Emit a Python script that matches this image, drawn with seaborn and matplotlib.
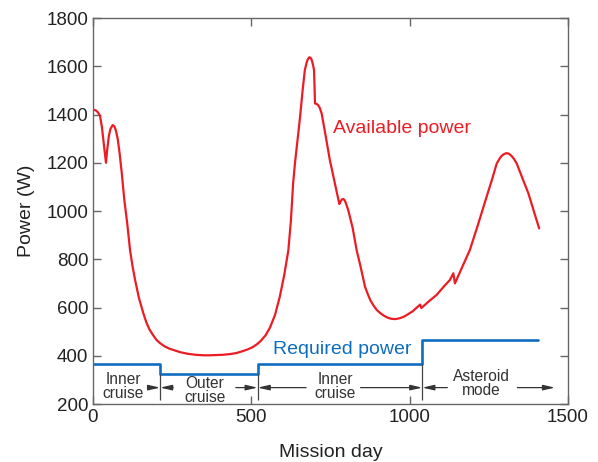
import matplotlib
matplotlib.use('Agg')
import matplotlib.pyplot as plt
import seaborn as sns
import pandas as pd

# Available power (mission day, W)
avail_day = [0, 8, 15, 22, 28, 34, 41, 45, 50, 55, 62, 67, 72, 78, 84, 91, 99, 108,
             117, 125, 133, 145, 159, 168, 178, 190, 201, 212, 225, 240, 254, 275,
             300, 325, 348, 370, 390, 410, 433, 452, 470, 490, 506, 520, 530, 545,
             559, 575, 590, 604, 617, 625, 632, 638, 643, 649, 654, 662, 669, 674,
             678, 682, 685, 689, 692, 695, 698, 700, 701, 706, 711, 716, 722, 735,
             748, 763, 778, 782, 786, 790, 794, 798, 806, 820, 833, 845, 859, 868,
             876, 886, 896, 908, 920, 932, 943, 955, 967, 980, 991, 1010, 1033, 1037,
             1060, 1085, 1110, 1127, 1138, 1143, 1165, 1190, 1215, 1243, 1260, 1275,
             1283, 1290, 1298, 1306, 1314, 1322, 1330, 1338, 1355, 1375, 1392, 1409]
avail_power = [1420, 1418, 1410, 1395, 1350, 1280, 1200, 1255, 1310, 1340, 1356,
               1352, 1335, 1300, 1240, 1156, 1045, 950, 838, 770, 714, 640, 576, 540,
               510, 485, 465, 452, 440, 430, 424, 415, 408, 404, 402, 402, 403, 404,
               407, 411, 418, 427, 437, 450, 462, 485, 517, 570, 645, 735, 838, 960,
               1115, 1200, 1260, 1330, 1391, 1500, 1584, 1612, 1628, 1636, 1637,
               1632, 1620, 1605, 1584, 1500, 1446, 1444, 1439, 1428, 1405, 1310, 1211,
               1120, 1029, 1040, 1048, 1050, 1046, 1035, 1004, 930, 835, 770, 686, 655,
               630, 608, 590, 576, 565, 557, 553, 552, 555, 561, 569, 585, 612, 598,
               625, 652, 690, 714, 742, 700, 765, 838, 940, 1059, 1130, 1197, 1215,
               1228, 1236, 1240, 1237, 1228, 1215, 1197, 1140, 1073, 1000, 928]

# Required power (step levels starting at each day)
req_day = [0, 212, 520, 1040, 1406]
req_power = [365, 325, 365, 465, 465]

# Mission phases
phase_edges = [212, 520, 1040]
phase_labels = ['Inner\ncruise', 'Outer\ncruise', 'Inner\ncruise', 'Asteroid\nmode']
phase_centers = [96, 354, 764, 1227]
phase_label_y = [272, 257, 272, 285]

avail = pd.DataFrame({'day': avail_day, 'power': avail_power})
req = pd.DataFrame({'day': req_day, 'power': req_power})

sns.set_style('ticks')
plt.rcParams['font.family'] = ['Liberation Sans', 'DejaVu Sans']

fig = plt.figure(figsize=(5.98, 4.62), dpi=100)
ax = fig.add_axes([0.1555, 0.1255, 0.7943, 0.8355])

red = '#ec1c24'
blue = '#0f6dbf'
gray = '#444444'

sns.lineplot(data=avail, x='day', y='power', color=red, lw=1.6,
             estimator=None, sort=False, ax=ax)
sns.lineplot(data=req, x='day', y='power', color=blue, lw=1.9,
             estimator=None, sort=False, drawstyle='steps-post', ax=ax)

# phase dividers
ax.vlines(phase_edges, 218, [325, 325, 365], color=gray, lw=0.9)

arrow = dict(arrowstyle='-|>,head_length=0.7,head_width=0.16', color='#333333',
             lw=0.9, shrinkA=0, shrinkB=0)
ya = 268
# (tail, head) pairs for each arrow
arrow_pairs = [(172, 212), (253, 212), (451, 520), (673, 520), (845, 1040),
               (1119, 1040), (1340, 1459)]
for tail, head in arrow_pairs:
    ax.annotate('', xy=(head, ya), xytext=(tail, ya), arrowprops=arrow)
for c, yl, lab in zip(phase_centers, phase_label_y, phase_labels):
    ax.text(c, yl, lab, ha='center', va='center', fontsize=11.2,
            linespacing=0.88, color='#333333')

ax.text(758, 1344, 'Available power', color=red, fontsize=14, va='center')
ax.text(568, 428, 'Required power', color=blue, fontsize=14, va='center')

ax.set_xlim(0, 1500)
ax.set_ylim(200, 1800)
ax.set_xticks([0, 500, 1000, 1500])
ax.set_yticks(range(200, 1801, 200))
ax.set_xlabel('Mission day', fontsize=14, color='#222222', labelpad=13)
ax.set_ylabel('Power (W)', fontsize=14, color='#222222', labelpad=8)
ax.tick_params(direction='in', length=6, width=1, color='#666666',
               labelsize=13.5, labelcolor='#222222', top=True, right=True)
for s in ax.spines.values():
    s.set_color('#666666')
    s.set_linewidth(1.0)
    s.set_visible(True)

fig.savefig('out.png', dpi=100)
